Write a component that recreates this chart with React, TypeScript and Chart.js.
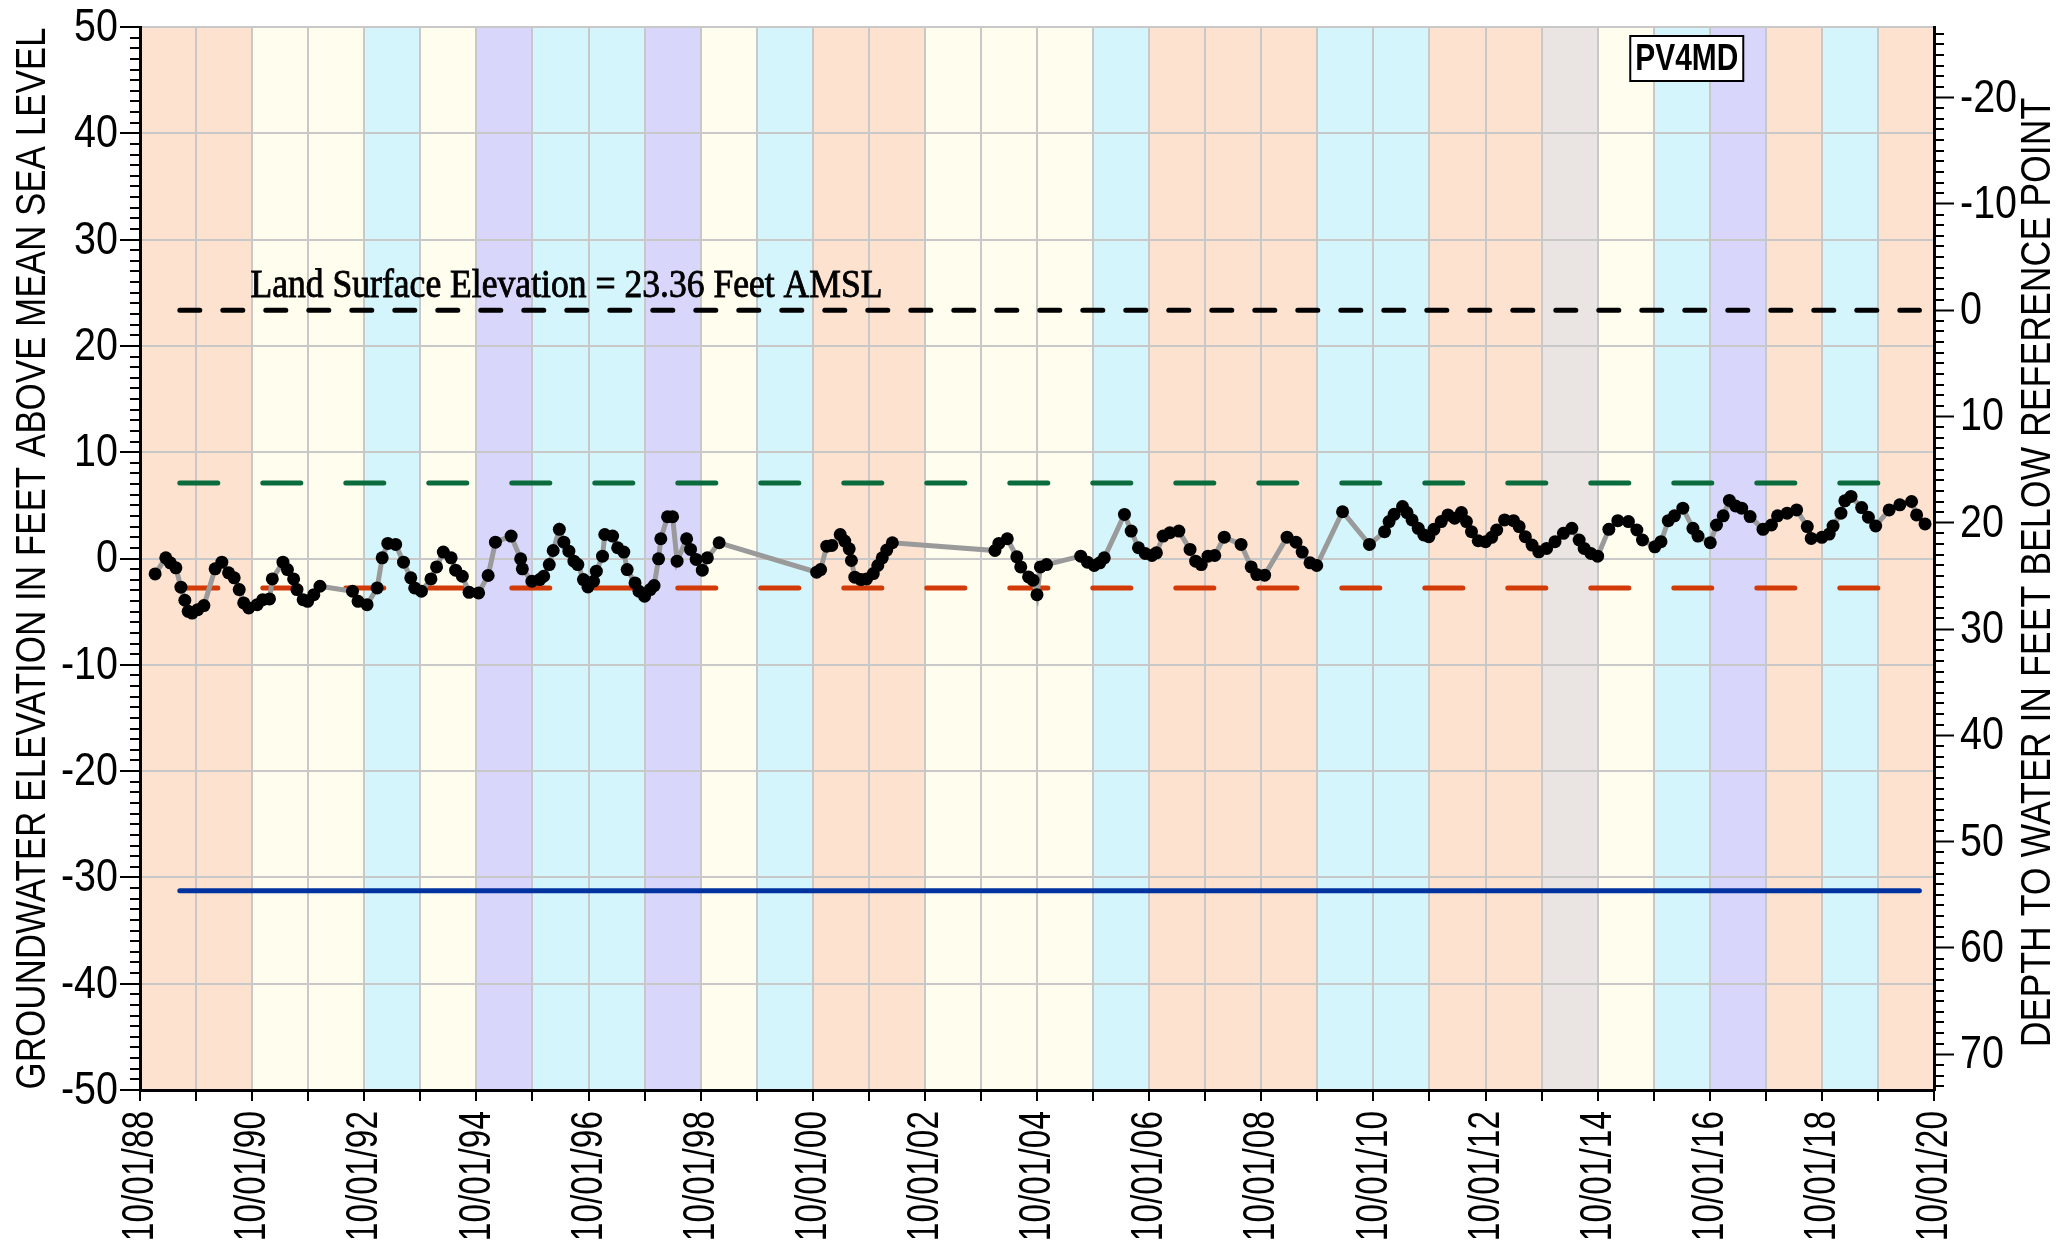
import React, { useEffect, useRef } from "react";
import { Chart, registerables } from "chart.js";

Chart.register(...registerables);

const SANS = "'Liberation Sans', Arial, sans-serif";
const SERIF = "'Liberation Serif', 'Times New Roman', serif";

// ---------- data ----------
const LAND_SURFACE = 23.36;
const GREEN_LEVEL = 7.1;
const RED_LEVEL = -2.78;
const BLUE_LEVEL = -31.25;
const REF_START = 1989.46;
const REF_END = 2020.49;

const WELL_NAME = "PV4MD";
const LEFT_TITLE = "GROUNDWATER ELEVATION IN FEET ABOVE MEAN SEA LEVEL";
const RIGHT_TITLE = "DEPTH TO WATER IN FEET BELOW REFERENCE POINT";

// water years, starting 10/01 of these years
const waterYearStarts = [
  1988, 1989, 1990, 1991, 1992, 1993, 1994, 1995, 1996, 1997, 1998, 1999, 2000, 2001, 2002, 2003,
  2004, 2005, 2006, 2007, 2008, 2009, 2010, 2011, 2012, 2013, 2014, 2015, 2016, 2017, 2018, 2019,
];
const waterYearBand = [
  "peach", "peach", "yellow", "yellow", "cyan", "yellow", "lavender", "cyan", "cyan", "lavender",
  "yellow", "cyan", "peach", "peach", "yellow", "yellow", "yellow", "cyan", "peach", "peach",
  "peach", "cyan", "cyan", "peach", "peach", "grey", "yellow", "cyan", "lavender", "peach",
  "cyan", "peach",
];
const bandPalette: Record<string, string> = {
  peach: "#FDE2CF",
  yellow: "#FFFDEE",
  cyan: "#D5F5FC",
  lavender: "#D8D7FB",
  grey: "#EAE5E3",
};

const xTickYears = [
  1988, 1989, 1990, 1991, 1992, 1993, 1994, 1995, 1996, 1997, 1998, 1999, 2000, 2001, 2002, 2003, 2004,
  2005, 2006, 2007, 2008, 2009, 2010, 2011, 2012, 2013, 2014, 2015, 2016, 2017, 2018, 2019, 2020,
];
const yLeftTicks = [-50, -40, -30, -20, -10, 0, 10, 20, 30, 40, 50];
const yRightTicks = [-20, -10, 0, 10, 20, 30, 40, 50, 60, 70];

// observation dates (decimal year) and groundwater elevations (ft AMSL)
const obsYears = [
  1989.02, 1989.21, 1989.29, 1989.39, 1989.48, 1989.55, 1989.61, 1989.68, 1989.78, 1989.89,
  1990.09, 1990.21, 1990.33, 1990.43, 1990.52, 1990.60, 1990.69, 1990.84, 1990.94, 1991.06,
  1991.11, 1991.30, 1991.38, 1991.49, 1991.55, 1991.66, 1991.74, 1991.85, 1991.96, 1992.54,
  1992.64, 1992.80, 1992.98, 1993.07, 1993.17, 1993.31, 1993.45, 1993.58, 1993.65, 1993.77,
  1993.94, 1994.04, 1994.16, 1994.30, 1994.38, 1994.50, 1994.62, 1994.79, 1994.96, 1995.09,
  1995.37, 1995.54, 1995.57, 1995.74, 1995.88, 1995.95, 1996.05, 1996.12, 1996.23, 1996.31,
  1996.40, 1996.49, 1996.56, 1996.66, 1996.74, 1996.84, 1996.89, 1997.00, 1997.04, 1997.18,
  1997.27, 1997.38, 1997.44, 1997.58, 1997.65, 1997.75, 1997.85, 1997.92, 1998.00, 1998.04,
  1998.16, 1998.25, 1998.33, 1998.50, 1998.57, 1998.67, 1998.78, 1998.87, 1999.08, 2000.82,
  2000.89, 2001.00, 2001.09, 2001.24, 2001.32, 2001.40, 2001.44, 2001.50, 2001.61, 2001.71,
  2001.83, 2001.91, 2001.99, 2002.07, 2002.17, 2004.00, 2004.07, 2004.22, 2004.39, 2004.46,
  2004.60, 2004.68, 2004.75, 2004.81, 2004.92, 2005.53, 2005.65, 2005.77, 2005.87, 2005.95,
  2006.31, 2006.43, 2006.56, 2006.68, 2006.80, 2006.88, 2007.00, 2007.12, 2007.28, 2007.48,
  2007.58, 2007.68, 2007.80, 2007.92, 2008.09, 2008.39, 2008.57, 2008.67, 2008.81, 2009.21,
  2009.37, 2009.48, 2009.62, 2009.74, 2010.20, 2010.68, 2010.95, 2011.03, 2011.12, 2011.27,
  2011.35, 2011.44, 2011.55, 2011.65, 2011.74, 2011.83, 2011.96, 2012.08, 2012.20, 2012.32,
  2012.41, 2012.50, 2012.62, 2012.75, 2012.86, 2012.95, 2013.09, 2013.25, 2013.35, 2013.46,
  2013.58, 2013.70, 2013.84, 2013.99, 2014.14, 2014.29, 2014.42, 2014.51, 2014.63, 2014.75,
  2014.95, 2015.11, 2015.30, 2015.45, 2015.55, 2015.77, 2015.88, 2016.01, 2016.12, 2016.27,
  2016.45, 2016.54, 2016.76, 2016.87, 2016.99, 2017.10, 2017.21, 2017.32, 2017.47, 2017.70,
  2017.85, 2017.96, 2018.13, 2018.30, 2018.49, 2018.56, 2018.75, 2018.88, 2018.95, 2019.09,
  2019.16, 2019.27, 2019.46, 2019.58, 2019.71, 2019.95, 2020.14, 2020.35, 2020.44, 2020.59,
];
const obsElev = [
  -1.45, 0.06, -0.41, -0.88, -2.7, -3.93, -4.97, -5.13, -4.81, -4.43,
  -0.97, -0.35, -1.35, -1.82, -2.92, -4.18, -4.65, -4.34, -3.87, -3.8,
  -1.92, -0.35, -1.04, -1.92, -2.92, -3.87, -4.03, -3.4, -2.61, -3.08,
  -4.03, -4.34, -2.77, 0.06, 1.42, 1.32, -0.35, -1.82, -2.77, -3.08,
  -1.92, -0.79, 0.6, 0.06, -1.1, -1.67, -3.18, -3.24, -1.6, 1.54,
  2.11, -0.03, -0.97, -2.14, -1.98, -1.67, -0.57, 0.75, 2.74, 1.54,
  0.69, -0.25, -0.57, -1.98, -2.67, -2.14, -1.19, 0.22, 2.26, 2.11,
  1.01, 0.6, -1.04, -2.3, -3.08, -3.55, -2.92, -2.55, -0.03, 1.86,
  3.93, 3.93, -0.25, 1.86, 0.85, -0.09, -1.1, 0.06, 1.48, -1.29,
  -1.04, 1.16, 1.23, 2.26, 1.64, 0.91, -0.19, -1.76, -1.98, -1.92,
  -1.42, -0.66, 0.06, 0.79, 1.48, 0.75, 1.42, 1.86, 0.16, -0.79,
  -1.73, -2.04, -3.4, -0.79, -0.57, 0.22, -0.35, -0.66, -0.41, 0.06,
  4.15, 2.58, 1.01, 0.47, 0.28, 0.53, 2.11, 2.42, 2.58, 0.85,
  -0.25, -0.57, 0.22, 0.28, 2.01, 1.32, -0.79, -1.51, -1.57, 2.01,
  1.54, 0.6, -0.41, -0.66, 4.4, 1.32, 2.52, 3.47, 4.16, 4.89,
  4.32, 3.63, 2.84, 2.21, 2.05, 2.74, 3.47, 4.1, 3.79, 4.32,
  3.47, 2.52, 1.67, 1.58, 1.99, 2.68, 3.63, 3.56, 3.0, 2.05,
  1.26, 0.63, 0.95, 1.58, 2.37, 2.84, 1.74, 0.95, 0.47, 0.22,
  2.74, 3.56, 3.47, 2.68, 1.74, 1.1, 1.58, 3.56, 4.01, 4.73,
  2.84, 2.11, 1.48, 3.15, 4.01, 5.46, 4.95, 4.73, 3.94, 2.74,
  3.15, 4.01, 4.26, 4.57, 3.0, 1.89, 1.99, 2.3, 3.06, 4.26,
  5.43, 5.84, 4.79, 3.88, 3.06, 4.57, 5.05, 5.36, 4.1, 3.25,
];

// ---------- helpers ----------
const WY_OFFSET = 0.75; // Oct 1 as a fraction of the calendar year

function xLabel(v: number) {
  const yr = Math.round(v - WY_OFFSET);
  return yr % 2 === 0 ? `10/01/${String(yr % 100).padStart(2, "0")}` : "";
}

function drawText(
  ctx: CanvasRenderingContext2D,
  text: string,
  x: number,
  y: number,
  font: string,
  sx: number,
  align: CanvasTextAlign,
  baseline: CanvasTextBaseline,
  rotate = 0,
  strokeW = 0
) {
  ctx.save();
  ctx.translate(x, y);
  if (rotate) ctx.rotate(rotate);
  ctx.scale(sx, 1);
  ctx.font = font;
  ctx.textAlign = align;
  ctx.textBaseline = baseline;
  ctx.fillText(text, 0, 0);
  if (strokeW > 0) {
    ctx.lineWidth = strokeW;
    ctx.strokeStyle = ctx.fillStyle as string;
    ctx.strokeText(text, 0, 0);
  }
  ctx.restore();
}

const bandPlugin = {
  id: "waterYearBands",
  beforeDraw(chart: any) {
    const { ctx, chartArea: a, scales } = chart;
    const x = scales.x;
    ctx.save();
    waterYearStarts.forEach((yr, i) => {
      const x0 = x.getPixelForValue(yr + WY_OFFSET);
      const x1 = x.getPixelForValue(yr + 1 + WY_OFFSET);
      ctx.fillStyle = bandPalette[waterYearBand[i]];
      ctx.fillRect(x0, a.top, x1 - x0, a.bottom - a.top);
    });
    ctx.restore();
  },
};

const TICK_FONT = `47px ${SANS}`;
const TICK_SX = 0.84;
const XTICK_FONT = `44px ${SANS}`;
const XTICK_SX = 0.76;

const overlayPlugin = {
  id: "overlayText",
  afterDraw(chart: any) {
    const { ctx, chartArea: a, scales } = chart;
    const x = scales.x;
    const y = scales.y;
    const y2 = scales.y2;
    ctx.save();

    // minor ticks
    ctx.strokeStyle = "#000";
    ctx.lineWidth = 2;
    ctx.beginPath();
    for (let v = Math.ceil(y.min); v <= Math.floor(y.max); v++) {
      if (v % 10 === 0) continue;
      const py = Math.round(y.getPixelForValue(v));
      ctx.moveTo(a.left - 10, py);
      ctx.lineTo(a.left, py);
    }
    for (let d = Math.ceil(y2.min); d <= Math.floor(y2.max); d++) {
      if (d % 10 === 0) continue;
      const py = Math.round(y2.getPixelForValue(d));
      ctx.moveTo(a.right, py);
      ctx.lineTo(a.right + 10, py);
    }
    ctx.stroke();

    ctx.fillStyle = "#000";

    // tick labels (condensed)
    y.ticks.forEach((t: any) => {
      drawText(ctx, String(t.value), a.left - 22, y.getPixelForValue(t.value) + 1, TICK_FONT, TICK_SX, "right", "middle");
    });
    y2.ticks.forEach((t: any) => {
      drawText(ctx, String(t.value), a.right + 26, y2.getPixelForValue(t.value) + 1, TICK_FONT, TICK_SX, "left", "middle");
    });
    x.ticks.forEach((t: any) => {
      const label = xLabel(t.value);
      if (!label) return;
      drawText(ctx, label, x.getPixelForValue(t.value) + 1, a.bottom + 21, XTICK_FONT, XTICK_SX, "right", "middle", -Math.PI / 2);
    });

    // axis titles
    drawText(ctx, LEFT_TITLE, 33, (a.top + a.bottom) / 2, `42px ${SANS}`, 0.833, "center", "middle", -Math.PI / 2);
    drawText(ctx, RIGHT_TITLE, 2038, (a.top + a.bottom) / 2 + 14, `42px ${SANS}`, 0.85, "center", "middle", -Math.PI / 2);

    // land surface label
    drawText(
      ctx,
      `Land Surface Elevation = ${LAND_SURFACE.toFixed(2)} Feet AMSL`,
      x.getPixelForValue(1990.72),
      y.getPixelForValue(LAND_SURFACE) - 13.5,
      `40px ${SERIF}`,
      0.89,
      "left",
      "alphabetic",
      0,
      0.9
    );

    // well name box
    const cx = x.getPixelForValue(2016.34);
    const bw = 113;
    const bh = 45;
    const by = a.top + 9;
    ctx.fillStyle = "#fff";
    ctx.fillRect(cx - bw / 2, by, bw, bh);
    ctx.strokeStyle = "#000";
    ctx.lineWidth = 2;
    ctx.strokeRect(cx - bw / 2, by, bw, bh);
    ctx.fillStyle = "#000";
    drawText(ctx, WELL_NAME, cx, by + bh / 2 + 2, `bold 36px ${SANS}`, 0.83, "center", "middle");

    ctx.restore();
  },
};

function refLine(level: number, color: string, dash: number[]) {
  return {
    data: [
      { x: REF_START, y: level },
      { x: REF_END, y: level },
    ],
    borderColor: color,
    borderWidth: 5,
    borderDash: dash,
    borderCapStyle: "round",
    pointRadius: 0,
    tension: 0,
    xAxisID: "x",
    yAxisID: "y",
  };
}

export default function App() {
  const canvasRef = useRef<HTMLCanvasElement | null>(null);

  useEffect(() => {
    const canvas = canvasRef.current;
    if (!canvas) return;
    const chart = new Chart(canvas, {
      type: "line",
      data: {
        datasets: [
          {
            data: obsYears.map((t, i) => ({ x: t, y: obsElev[i] })),
            borderColor: "#9a9a9a",
            borderWidth: 5,
            pointRadius: 6.5,
            pointBackgroundColor: "#000",
            pointBorderColor: "#000",
            pointBorderWidth: 0,
            tension: 0,
            xAxisID: "x",
            yAxisID: "y",
          },
          refLine(LAND_SURFACE, "#000000", [20, 23]),
          refLine(GREEN_LEVEL, "#0A6B3C", [38, 45]),
          refLine(RED_LEVEL, "#D23A08", [38, 45]),
          refLine(BLUE_LEVEL, "#0033A0", []),
        ] as any,
      },
      options: {
        animation: false,
        responsive: false,
        devicePixelRatio: 1,
        layout: { padding: { top: 27, left: 0, right: 0, bottom: 0 } },
        plugins: {
          legend: { display: false },
          tooltip: { enabled: false },
        },
        scales: {
          x: {
            type: "linear",
            position: "bottom",
            min: xTickYears[0] + WY_OFFSET,
            max: xTickYears[xTickYears.length - 1] + WY_OFFSET,
            afterBuildTicks: (s: any) => {
              s.ticks = xTickYears.map((yr) => ({ value: yr + WY_OFFSET }));
            },
            afterFit: (s: any) => {
              s.height = 161;
            },
            ticks: { display: false, autoSkip: false, callback: (v: any) => xLabel(Number(v)) },
            grid: { color: "#c8c8c8", lineWidth: 2, tickLength: 11, tickColor: "#000", tickWidth: 2 },
            border: { color: "#000", width: 3 },
          },
          y: {
            type: "linear",
            position: "left",
            min: yLeftTicks[0],
            max: yLeftTicks[yLeftTicks.length - 1],
            afterBuildTicks: (s: any) => {
              s.ticks = yLeftTicks.map((v) => ({ value: v }));
            },
            afterFit: (s: any) => {
              s.width = 140;
            },
            ticks: { display: false },
            grid: { color: "#c8c8c8", lineWidth: 2, tickLength: 20, tickColor: "#000", tickWidth: 2 },
            border: { color: "#000", width: 3 },
          },
          y2: {
            type: "linear",
            position: "right",
            reverse: true,
            min: LAND_SURFACE - yLeftTicks[yLeftTicks.length - 1],
            max: LAND_SURFACE - yLeftTicks[0],
            afterBuildTicks: (s: any) => {
              s.ticks = yRightTicks.map((v) => ({ value: v }));
            },
            afterFit: (s: any) => {
              s.width = 130;
            },
            ticks: { display: false },
            grid: { drawOnChartArea: false, tickLength: 20, tickColor: "#000", tickWidth: 2 },
            border: { color: "#000", width: 3 },
          },
        },
      } as any,
      plugins: [bandPlugin, overlayPlugin],
    });
    return () => chart.destroy();
  }, []);

  return (
    <div style={{ position: "fixed", left: 0, top: 0, width: 2064, height: 1251, background: "#fff" }}>
      <canvas ref={canvasRef} width={2064} height={1251} style={{ width: 2064, height: 1251, display: "block" }} />
    </div>
  );
}
